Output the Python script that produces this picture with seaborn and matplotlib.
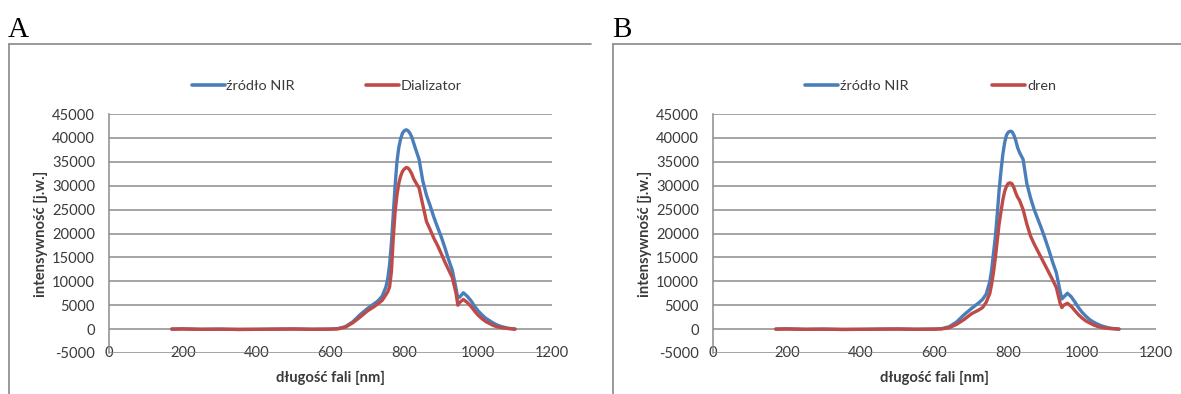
import numpy as np
import pandas as pd
import matplotlib
matplotlib.use("Agg")
import matplotlib.pyplot as plt
from matplotlib.lines import Line2D
import seaborn as sns

# ---------------- data ----------------
wavelength = [170, 200, 250, 300, 350, 400, 450, 500, 550, 600, 620, 640, 660, 680,
              700, 720, 730, 740, 750, 755, 760, 765, 770, 775, 780, 785, 790, 795,
              800, 805, 810, 815, 820, 825, 830, 840,
              850, 860, 870, 880, 890, 900, 910, 920, 930, 940, 945, 950, 960, 970,
              980, 990, 1000, 1010, 1020, 1030, 1040, 1050, 1060, 1070, 1080, 1090, 1100]

nir_a = [0, 50, -50, 0, -80, -50, 0, 30, -30, 0, 100, 500, 1500, 3000,
         4300, 5400, 6000, 6900, 8800, 10500, 13500, 18000, 24000, 30000, 35000, 38000, 39800, 41000,
         41500, 41700, 41500, 41000, 40200, 39000, 37800, 35500,
         31000, 28000, 25800, 23400, 21300, 19300, 17000, 14500, 12300, 8500, 6500, 6700, 7600, 6900,
         6000, 4800, 3800, 3000, 2300, 1800, 1300, 900, 600, 400, 200, 100, 0]

dializator = [0, 30, -40, -20, -60, -40, -10, 20, -40, 0, 50, 400, 1300, 2500,
              3800, 4800, 5400, 6000, 7200, 7800, 8800, 12000, 19000, 24500, 28000, 30500, 32000, 33000,
              33500, 33800, 33700, 33200, 32500, 31500, 30800, 29500,
              26000, 22500, 20800, 19000, 17500, 15800, 14000, 12400, 10800, 7500, 5000, 5600, 6200, 5600,
              4800, 3800, 2900, 2200, 1600, 1200, 800, 500, 350, 200, 120, 50, 0]

nir_b = [0, 50, -50, 0, -80, -50, 0, 30, -30, 0, 100, 500, 1500, 3000,
         4300, 5500, 6200, 7300, 10000, 12500, 16000, 19500, 24000, 29000, 33000, 36500, 39000, 40600,
         41200, 41400, 41300, 40600, 39500, 38000, 37000, 35500,
         30500, 27500, 25000, 23000, 21000, 18800, 16500, 14000, 11800, 8000, 6300, 6700, 7500, 6800,
         5700, 4500, 3500, 2700, 2000, 1500, 1100, 750, 500, 300, 150, 80, 0]

dren = [0, 30, -40, -20, -60, -40, -10, 20, -40, 0, 50, 300, 1000, 2000,
        3200, 4000, 4500, 5600, 7500, 9500, 12000, 15000, 18500, 22000, 24500, 27000, 28800, 29900,
        30500, 30600, 30400, 29600, 28500, 27600, 27000, 25000,
        22000, 19500, 17800, 16300, 14800, 13300, 11800, 10300, 8700, 5500, 4500, 5000, 5400, 4800,
        3900, 3000, 2300, 1700, 1300, 900, 600, 400, 250, 150, 80, 40, 0]

panel_labels = ["A", "B"]
legend_a = ["źródło NIR", "Dializator"]
legend_b = ["źródło NIR", "dren"]
x_ticks = [0, 200, 400, 600, 800, 1000, 1200]
y_ticks = list(range(-5000, 45001, 5000))
xlabel = "długość fali [nm]"
ylabel = "intensywność [j.w.]"

# ---------------- style ----------------
sns.set_theme(style="white")
plt.rcParams["font.family"] = ["Lato", "DejaVu Sans"]

BLUE = "#4A7EBB"
RED = "#BE4B48"
GRID = "#8C8C8C"
TXT = "#3a3a3a"

W, H = 1181, 394
fig = plt.figure(figsize=(W / 100, H / 100), dpi=100)


def px_axes(x0, x1, ytop, ybot):
    return fig.add_axes([x0 / W, (H - ybot) / H, (x1 - x0) / W, (ybot - ytop) / H])


panels = [
    dict(ax=px_axes(109, 552, 114, 353), s1=nir_a, s2=dializator, names=legend_a,
         lab=panel_labels[0], labx=8, boxl=8.5, boxr=591, colsp=4.9),
    dict(ax=px_axes(713, 1156, 114, 353), s1=nir_b, s2=dren, names=legend_b,
         lab=panel_labels[1], labx=612, boxl=612.5, boxr=1181, colsp=5.8),
]

for p in panels:
    ax = p["ax"]
    df = pd.DataFrame({
        "wavelength": wavelength * 2,
        "value": p["s1"] + p["s2"],
        "series": [p["names"][0]] * len(wavelength) + [p["names"][1]] * len(wavelength),
    })
    sns.lineplot(data=df, x="wavelength", y="value", hue="series",
                 palette=[BLUE, RED], hue_order=p["names"], ax=ax,
                 linewidth=2.4, solid_capstyle="round", solid_joinstyle="round",
                 legend=False, sort=False)
    ax.set_xlim(0, 1200)
    ax.set_ylim(-5000, 45000)
    ax.set_xticks(x_ticks)
    ax.set_yticks(y_ticks)
    ax.set_xticklabels([str(v) for v in x_ticks])
    ax.set_yticklabels([str(v) for v in y_ticks])
    ax.yaxis.grid(True, color=GRID, linewidth=1.1)
    ax.xaxis.grid(False)
    ax.set_axisbelow(True)
    for side in ["top", "right"]:
        ax.spines[side].set_visible(False)
    ax.spines["bottom"].set_visible(False)
    ax.spines["left"].set_color(GRID)
    ax.spines["left"].set_linewidth(1.1)
    ax.tick_params(axis="both", length=0, labelsize=10.6, labelcolor=TXT)
    ax.tick_params(axis="y", pad=10)
    ax.tick_params(axis="x", pad=0)
    for t in ax.get_xticklabels():
        t.set_verticalalignment("center")
    ax.set_xlabel(xlabel, fontsize=10.6, fontweight="bold", color=TXT)
    ax.set_ylabel(ylabel, fontsize=10.6, fontweight="bold", color=TXT)
    ax.xaxis.set_label_coords(0.5, -0.075)
    ax.yaxis.set_label_coords(-0.138, 0.5)
    handles = [Line2D([], [], color=BLUE, linewidth=2.6),
               Line2D([], [], color=RED, linewidth=2.6)]
    ax.legend(handles, p["names"], loc="center", bbox_to_anchor=(0.491, 1.117),
              ncol=2, frameon=False, fontsize=10.4, handlelength=2.3,
              handletextpad=0.1, columnspacing=p["colsp"], labelcolor=TXT)
    # panel letter
    fig.text(p["labx"] / W, (H - 37) / H, p["lab"], fontsize=21,
             family=["Liberation Serif", "DejaVu Serif"], color="black",
             ha="left", va="baseline")
    # frame (left and top edges)
    fig.add_artist(Line2D([p["boxl"] / W, p["boxl"] / W], [0, (H - 44) / H],
                          transform=fig.transFigure, color="#888888", linewidth=1.2))
    fig.add_artist(Line2D([p["boxl"] / W, p["boxr"] / W], [(H - 44) / H, (H - 44) / H],
                          transform=fig.transFigure, color="#888888", linewidth=1.2))

fig.savefig("out.png", dpi=100)
